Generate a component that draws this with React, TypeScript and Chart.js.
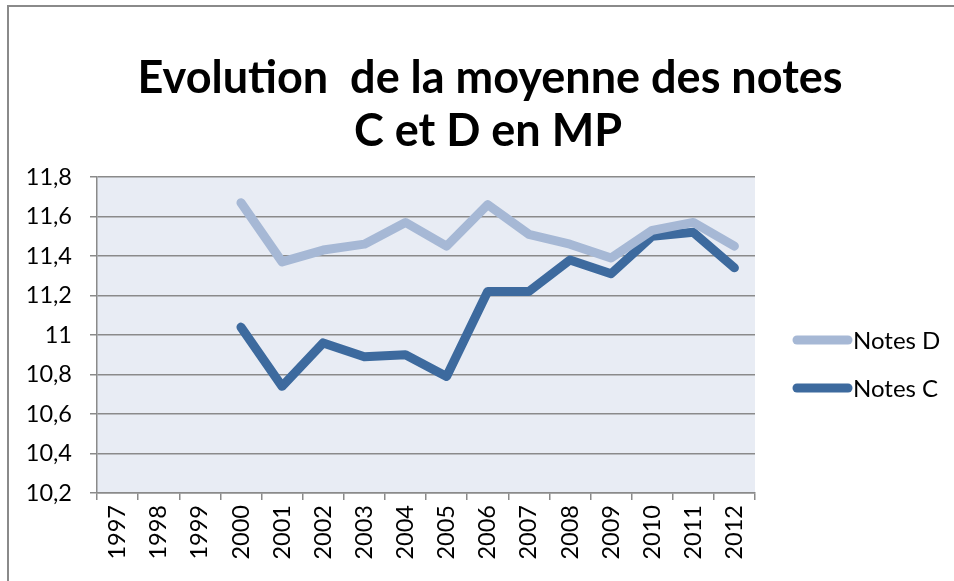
import React, { useEffect, useRef } from "react";
import { Chart, registerables } from "chart.js";

Chart.register(...registerables);

const years = ["1997","1998","1999","2000","2001","2002","2003","2004","2005","2006","2007","2008","2009","2010","2011","2012"];
const notesD = [null,null,null,11.67,11.37,11.43,11.46,11.57,11.45,11.66,11.51,11.46,11.39,11.53,11.57,11.45];
const notesC = [null,null,null,11.04,10.74,10.96,10.89,10.90,10.79,11.22,11.22,11.38,11.31,11.50,11.52,11.34];
const titleLines = ["Evolution  de la moyenne des notes", "C et D en MP"];
const seriesNames = ["Notes D", "Notes C"];
const colorD = "#A6B8D5";
const colorC = "#3D6A9E";

const FONT = "Lato, 'Open Sans', sans-serif";

export default function App() {
  const ref = useRef<HTMLCanvasElement>(null);
  useEffect(() => {
    if (!ref.current) return;
    const bgPlugin = {
      id: "bg",
      beforeDraw(chart: any) {
        const { ctx, chartArea: a } = chart;
        ctx.save();
        ctx.fillStyle = "#fff";
        ctx.fillRect(0, 0, chart.width, chart.height);
        ctx.fillStyle = "#E8ECF4";
        ctx.fillRect(a.left, a.top, a.right - a.left, a.bottom - a.top);
        ctx.strokeStyle = "#8a8a8a";
        ctx.lineWidth = 2;
        ctx.beginPath();
        ctx.moveTo(8, chart.height + 2);
        ctx.lineTo(8, 6);
        ctx.lineTo(chart.width + 2, 6);
        ctx.stroke();
        ctx.restore();
      },
      afterDraw(chart: any) {
        const { ctx } = chart;
        ctx.save();
        ctx.fillStyle = "#000";
        ctx.font = `bold 45px ${FONT}`;
        ctx.textAlign = "center";
        ctx.textBaseline = "alphabetic";
        ctx.fillText(titleLines[0], 490, 93, 707);
        ctx.fillText(titleLines[1], 488, 146, 707);
        const items = [
          { name: seriesNames[0], color: colorD, y: 340 },
          { name: seriesNames[1], color: colorC, y: 388 },
        ];
        ctx.font = `24px ${FONT}`;
        ctx.textAlign = "left";
        ctx.textBaseline = "middle";
        for (const it of items) {
          ctx.strokeStyle = it.color;
          ctx.lineWidth = 9;
          ctx.lineCap = "round";
          ctx.beginPath();
          ctx.moveTo(797, it.y);
          ctx.lineTo(848, it.y);
          ctx.stroke();
          ctx.fillStyle = "#000";
          ctx.fillText(it.name, 853, it.y + 1);
        }
        ctx.restore();
      },
    };
    const chart = new Chart(ref.current, {
      type: "line",
      data: {
        labels: years,
        datasets: [
          { label: seriesNames[0], data: notesD, borderColor: colorD, borderWidth: 9, pointRadius: 0, borderCapStyle: "round", borderJoinStyle: "round", tension: 0 },
          { label: seriesNames[1], data: notesC, borderColor: colorC, borderWidth: 9, pointRadius: 0, borderCapStyle: "round", borderJoinStyle: "round", tension: 0 },
        ],
      },
      options: {
        animation: false,
        responsive: false,
        layout: { padding: { top: 177, left: 0, right: 199, bottom: 0 } },
        plugins: { legend: { display: false }, title: { display: false }, tooltip: { enabled: false } },
        scales: {
          x: {
            offset: true,
            grid: { offset: true, drawOnChartArea: false, drawTicks: true, tickLength: 7, color: "#8a8a8a", lineWidth: 1.5 },
            border: { color: "#8a8a8a", width: 1.5 },
            ticks: { minRotation: 90, maxRotation: 90, autoSkip: false, padding: 5, color: "#000", font: { family: FONT, size: 23.5 } },
            afterFit(scale: any) { scale.height = 88; },
          },
          y: {
            min: 10.2,
            max: 11.8,
            ticks: {
              stepSize: 0.2,
              padding: 18,
              color: "#000",
              font: { family: FONT, size: 23.5 },
              callback: (v: any) => String(Number(Number(v).toFixed(1))).replace(".", ","),
            },
            grid: { color: "#8a8a8a", lineWidth: 1.5, tickLength: 7, drawTicks: true },
            border: { color: "#8a8a8a", width: 1.5 },
            afterFit(scale: any) { scale.width = 97; },
          },
        },
      },
      plugins: [bgPlugin],
    } as any);
    return () => chart.destroy();
  }, []);
  return (
    <div style={{ position: "absolute", left: 0, top: 0, width: 954, height: 581 }}>
      <canvas ref={ref} width={954} height={581} style={{ width: 954, height: 581 }} />
    </div>
  );
}
